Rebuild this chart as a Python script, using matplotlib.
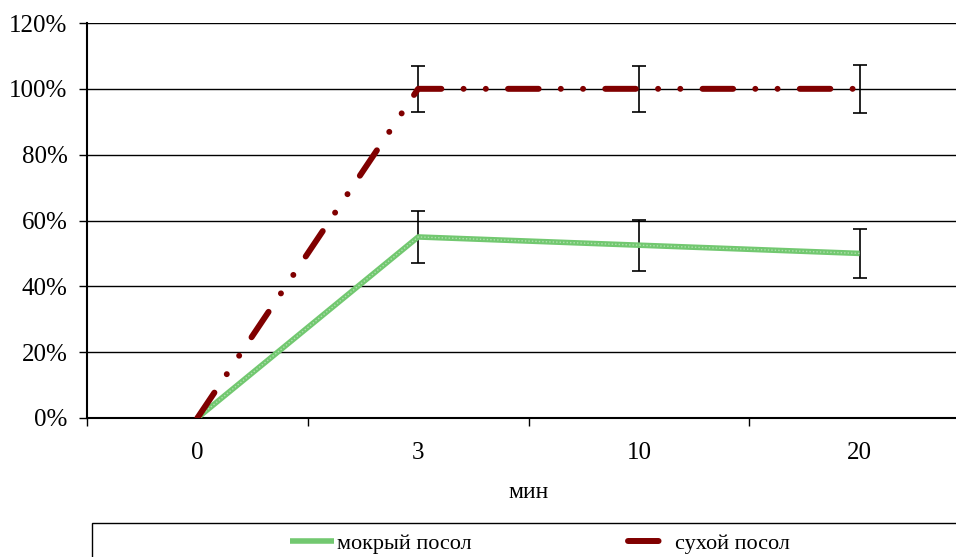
import matplotlib.pyplot as plt
from matplotlib.patches import Rectangle
import numpy as np

# data
minutes = ['0', '3', '10', '20']
wet = [0, 55, 52.5, 50]
wet_err = [0, 8, 7.8, 7.5]
dry = [0, 100, 100, 100]
dry_err = [0, 7, 7, 7.2]
y_ticks = [0, 20, 40, 60, 80, 100, 120]

plt.rcParams['font.family'] = ['Liberation Serif', 'DejaVu Serif']
plt.rcParams['lines.scale_dashes'] = False

fig = plt.figure(figsize=(9.56, 5.57), dpi=100)
W, H = 956, 557
# plot area runs past the right edge of the picture, like the original
ax = fig.add_axes([87 / W, 1 - 418 / H, 883 / W, (418 - 23) / H])

x = np.arange(len(minutes))

for yv in y_ticks[1:]:
    ax.axhline(yv, color='black', lw=1, zorder=1)

ax.errorbar(x[1:], wet[1:], yerr=wet_err[1:], fmt='none', ecolor='black',
            elinewidth=1.2, capsize=5, capthick=1.2, zorder=2)
ax.errorbar(x[1:], dry[1:], yerr=dry_err[1:], fmt='none', ecolor='black',
            elinewidth=1.2, capsize=5, capthick=1.2, zorder=2)

wet_line, = ax.plot(x, wet, color='#72c870', lw=4, solid_capstyle='butt', zorder=3)
ax.plot(x, wet, color='#b0e0ae', lw=1, ls=(0, (1, 1.5)), zorder=3)
dry_line, = ax.plot(x, dry, color='#800000', lw=4.3, dashes=(22, 16, 0.01, 16, 0.01, 16),
                    dash_capstyle='round', zorder=4)

ax.set_xlim(-0.5, 3.5)
ax.set_ylim(0, 120)
ax.set_yticks(y_ticks)
ax.set_yticklabels([f'{v}%' for v in y_ticks])
ax.set_xticks(x)
ax.set_xticklabels(minutes)
ax.set_xticks(np.arange(-0.5, 4, 1), minor=True)
ax.tick_params(axis='x', which='major', length=0, pad=17, labelsize=18)
ax.tick_params(axis='x', which='minor', length=6, width=1, direction='out')
ax.tick_params(axis='y', length=6, width=1, direction='out', pad=8, labelsize=18)
ax.set_xlabel('мин', fontsize=17, labelpad=13)

for s in ['top', 'right']:
    ax.spines[s].set_visible(False)
ax.spines['left'].set_linewidth(1.5)
ax.spines['bottom'].set_linewidth(1.5)

# legend box, cut by the picture edge as in the original
fig.patches.append(Rectangle((92 / W, -0.1), 1, 1 - 523 / H + 0.1,
                             transform=fig.transFigure, fill=False,
                             edgecolor='black', lw=1))

fig.legend([wet_line], ['мокрый посол'], loc='center left',
           bbox_to_anchor=(290 / W, 1 - 544 / H), frameon=False,
           fontsize=16, handlelength=2.0, handletextpad=0.1,
           borderpad=0, borderaxespad=0)
fig.legend([dry_line], ['сухой посол'], loc='center left',
           bbox_to_anchor=(628 / W, 1 - 544 / H), frameon=False,
           fontsize=16, handlelength=1.5, handletextpad=0.6,
           borderpad=0, borderaxespad=0)

fig.savefig('out.png', dpi=100)
